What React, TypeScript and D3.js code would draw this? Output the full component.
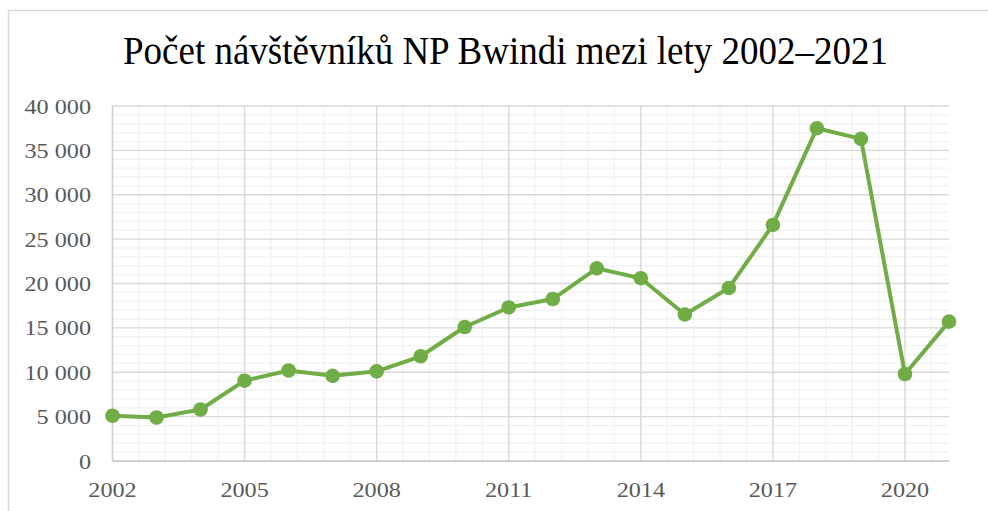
import React from "react";
import * as d3 from "d3";

const years = [2002, 2003, 2004, 2005, 2006, 2007, 2008, 2009, 2010, 2011, 2012, 2013, 2014, 2015, 2016, 2017, 2018, 2019, 2020, 2021];
const visitors = [5100, 4900, 5800, 9050, 10200, 9600, 10100, 11800, 15100, 17300, 18250, 21700, 20600, 16500, 19500, 26600, 37500, 36300, 9800, 15700];
const yTicks = [0, 5000, 10000, 15000, 20000, 25000, 30000, 35000, 40000];
const xTicks = [2002, 2005, 2008, 2011, 2014, 2017, 2020];
const title = "Počet návštěvníků NP Bwindi mezi lety 2002–2021";

const W = 988, H = 511;
const M = { left: 112.5, right: 949, top: 106, bottom: 461 };

export default function App() {
  const x = d3.scaleLinear().domain([2002, 2021]).range([M.left, M.right]);
  const y = d3.scaleLinear().domain([0, 40000]).range([M.bottom, M.top]);
  const minorX = d3.range(0, 19.0001, 0.6).map((d) => 2002 + d);
  const minorY = d3.range(0, 40001, 1000).filter((v) => v % 5000 !== 0);
  const line = d3.line<number>().x((_, i) => x(years[i])).y((d) => y(d));
  const fmt = (v: number) => d3.format(",")(v).replace(/,/g, " ");
  const font = "'Liberation Serif', 'Times New Roman', serif";
  return (
    <svg width={W} height={H} style={{ position: "absolute", left: 0, top: 0 }} fontFamily={font}>
      <rect x={0} y={0} width={W} height={H} fill="#fff" />
      <rect x={8.5} y={10.5} width={W + 10} height={H + 10} fill="none" stroke="#d9d9d9" strokeWidth={1.5} />
      <text x={505.5} y={64} textAnchor="middle" fontSize={39} fill="#000" textLength={765} lengthAdjust="spacingAndGlyphs">{title}</text>
      {minorY.map((v) => (
        <line key={"my" + v} x1={M.left} x2={M.right} y1={y(v)} y2={y(v)} stroke="#f2f2f2" strokeWidth={1.3} />
      ))}
      {minorX.map((v, i) => (
        <line key={"mx" + i} x1={x(v)} x2={x(v)} y1={M.top} y2={M.bottom} stroke="#f2f2f2" strokeWidth={1.3} />
      ))}
      {yTicks.filter((v) => v > 0).map((v) => (
        <line key={"gy" + v} x1={M.left} x2={M.right} y1={y(v)} y2={y(v)} stroke="#d9d9d9" strokeWidth={1.3} />
      ))}
      {xTicks.map((v) => (
        <line key={"gx" + v} x1={x(v)} x2={x(v)} y1={M.top} y2={M.bottom} stroke="#d9d9d9" strokeWidth={1.3} />
      ))}
      <line x1={M.left} x2={M.left} y1={M.top} y2={M.bottom} stroke="#d0d0d0" strokeWidth={1.3} />
      <line x1={M.left} x2={M.right} y1={M.bottom} y2={M.bottom} stroke="#bfbfbf" strokeWidth={1.3} />
      {yTicks.map((v) => (
        <text key={"ty" + v} transform={`translate(91,${y(v) + 7.5}) scale(1.1,1)`} textAnchor="end" fontSize={22} fill="#595959">{fmt(v)}</text>
      ))}
      {xTicks.map((v) => (
        <text key={"tx" + v} transform={`translate(${x(v)},497) scale(1.1,1)`} textAnchor="middle" fontSize={22} fill="#595959">{v}</text>
      ))}
      <path d={line(visitors) || ""} fill="none" stroke="#70ad47" strokeWidth={4} strokeLinejoin="round" />
      {visitors.map((v, i) => (
        <circle key={"c" + i} cx={x(years[i])} cy={y(v)} r={7.3} fill="#70ad47" />
      ))}
    </svg>
  );
}
